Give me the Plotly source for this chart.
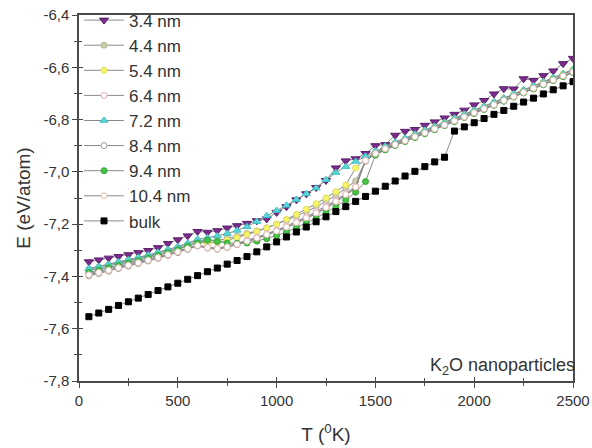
import plotly.graph_objects as go

# Temperature grid (K)
T = list(range(50, 2501, 50))

e_3_4 = [-7.344, -7.337, -7.330, -7.324, -7.317, -7.309, -7.301, -7.290, -7.274, -7.260,
         -7.245, -7.228, -7.231, -7.225, -7.215, -7.206, -7.197, -7.187, -7.180, -7.155,
         -7.133, -7.107, -7.084, -7.060, -7.033, -6.985, -6.958, -6.950, -6.930, -6.900,
         -6.896, -6.860, -6.845, -6.838, -6.822, -6.809, -6.794, -6.780, -6.764, -6.744,
         -6.727, -6.702, -6.682, -6.683, -6.644, -6.650, -6.632, -6.614, -6.586, -6.566]

e_4_4 = [-7.372, -7.364, -7.356, -7.347, -7.339, -7.330, -7.321, -7.311, -7.301, -7.290,
         -7.278, -7.262, -7.262, -7.262, -7.255, -7.246, -7.236, -7.226, -7.214, -7.200,
         -7.186, -7.170, -7.152, -7.134, -7.112, -7.090, -7.062, -7.035, -6.960, -6.930,
         -6.912, -6.893, -6.878, -6.862, -6.848, -6.832, -6.816, -6.800, -6.785, -6.769,
         -6.753, -6.737, -6.721, -6.705, -6.690, -6.674, -6.658, -6.643, -6.627, -6.611]

e_5_4 = [-7.378, -7.369, -7.361, -7.352, -7.344, -7.335, -7.326, -7.316, -7.306, -7.295,
         -7.283, -7.270, -7.272, -7.270, -7.262, -7.252, -7.240, -7.228, -7.215, -7.200,
         -7.182, -7.163, -7.143, -7.122, -7.100, -7.076, -7.050, -6.985, -6.950, -6.925,
         -6.906, -6.889, -6.874, -6.858, -6.843, -6.828, -6.812, -6.797, -6.781, -6.766,
         -6.750, -6.734, -6.719, -6.703, -6.688, -6.672, -6.656, -6.641, -6.625, -6.609]

e_6_4 = [-7.390, -7.381, -7.372, -7.363, -7.354, -7.345, -7.335, -7.325, -7.315, -7.304,
         -7.292, -7.280, -7.288, -7.292, -7.284, -7.274, -7.262, -7.250, -7.237, -7.223,
         -7.207, -7.190, -7.172, -7.152, -7.131, -7.108, -7.083, -7.055, -6.955, -6.928,
         -6.910, -6.894, -6.880, -6.865, -6.850, -6.835, -6.820, -6.804, -6.789, -6.773,
         -6.758, -6.742, -6.726, -6.711, -6.695, -6.680, -6.664, -6.648, -6.633, -6.617]

e_7_2 = [-7.370, -7.362, -7.354, -7.345, -7.336, -7.327, -7.318, -7.308, -7.297, -7.286,
         -7.273, -7.258, -7.252, -7.245, -7.236, -7.224, -7.210, -7.190, -7.168, -7.148,
         -7.128, -7.106, -7.084, -7.062, -7.030, -7.003, -6.980, -6.960, -6.940, -6.920,
         -6.902, -6.886, -6.871, -6.856, -6.841, -6.826, -6.811, -6.795, -6.780, -6.764,
         -6.749, -6.733, -6.718, -6.702, -6.687, -6.671, -6.656, -6.640, -6.625, -6.609]

e_8_4 = [-7.398, -7.389, -7.380, -7.370, -7.361, -7.351, -7.341, -7.331, -7.320, -7.309,
         -7.297, -7.284, -7.292, -7.296, -7.289, -7.279, -7.268, -7.256, -7.243, -7.229,
         -7.214, -7.197, -7.179, -7.160, -7.139, -7.116, -7.090, -7.062, -6.958, -6.932,
         -6.914, -6.897, -6.882, -6.867, -6.852, -6.837, -6.822, -6.806, -6.791, -6.775,
         -6.760, -6.744, -6.728, -6.713, -6.697, -6.681, -6.666, -6.650, -6.634, -6.619]

e_9_4 = [-7.385, -7.376, -7.367, -7.358, -7.349, -7.340, -7.330, -7.320, -7.309, -7.298,
         -7.285, -7.272, -7.262, -7.266, -7.272, -7.273, -7.272, -7.265, -7.256, -7.244,
         -7.230, -7.214, -7.196, -7.177, -7.156, -7.133, -7.108, -7.078, -7.037, -6.936,
         -6.916, -6.899, -6.884, -6.869, -6.854, -6.839, -6.823, -6.808, -6.792, -6.777,
         -6.761, -6.745, -6.730, -6.714, -6.698, -6.683, -6.667, -6.651, -6.636, -6.620]

e_10_4 = [-7.394, -7.385, -7.376, -7.367, -7.357, -7.348, -7.338, -7.328, -7.317, -7.306,
          -7.294, -7.282, -7.290, -7.294, -7.287, -7.277, -7.265, -7.253, -7.240, -7.226,
          -7.211, -7.194, -7.176, -7.157, -7.136, -7.113, -7.087, -7.058, -6.957, -6.930,
          -6.912, -6.896, -6.881, -6.866, -6.851, -6.836, -6.821, -6.805, -6.790, -6.774,
          -6.759, -6.743, -6.727, -6.712, -6.696, -6.680, -6.665, -6.649, -6.633, -6.618]

e_bulk = [-7.554, -7.540, -7.526, -7.511, -7.497, -7.483, -7.469, -7.454, -7.440, -7.426,
          -7.411, -7.397, -7.382, -7.368, -7.353, -7.339, -7.324, -7.306, -7.287, -7.268,
          -7.249, -7.230, -7.211, -7.191, -7.172, -7.152, -7.133, -7.113, -7.094, -7.074,
          -7.055, -7.035, -7.016, -6.998, -6.980, -6.962, -6.944, -6.844, -6.828, -6.812,
          -6.796, -6.780, -6.765, -6.749, -6.733, -6.718, -6.702, -6.686, -6.671, -6.655]

series_names = ["3.4 nm", "4.4 nm", "5.4 nm", "6.4 nm", "7.2 nm",
                "8.4 nm", "9.4 nm", "10.4 nm", "bulk"]
series_values = [e_3_4, e_4_4, e_5_4, e_6_4, e_7_2, e_8_4, e_9_4, e_10_4, e_bulk]

y_ticks = [-7.8, -7.6, -7.4, -7.2, -7.0, -6.8, -6.6, -6.4]
x_ticks = [0, 500, 1000, 1500, 2000, 2500]

# marker style per series: (symbol, fill, outline, size)
styles = [
    ("triangle-down", "#7a2c8c", "#5a1f6a", 8),
    ("circle", "#cfcfae", "#b5b597", 6),
    ("circle", "#f6f46a", "#e2df55", 6),
    ("circle", "#ffffff", "#e3a9cf", 6),
    ("triangle-up", "#59d6d8", "#3fc0c2", 7),
    ("circle", "#ffffff", "#9a9a9a", 6),
    ("circle", "#46c247", "#34a836", 6),
    ("circle", "#ffffff", "#e6bcb0", 6),
    ("square", "#000000", "#000000", 6),
]

fig = go.Figure()
for name, vals, (sym, fill, edge, size) in zip(series_names, series_values, styles):
    fig.add_trace(go.Scatter(
        x=T, y=vals, name=name, mode="lines+markers",
        line=dict(color="#8a8a8a", width=1),
        marker=dict(symbol=sym, color=fill, size=size,
                    line=dict(color=edge, width=1)),
    ))

axis_common = dict(showgrid=False, zeroline=False, linecolor="#4a4a4a",
                   linewidth=1.5, tickcolor="#4a4a4a", tickwidth=1.2,
                   tickfont=dict(size=15), automargin=False)

fig.update_layout(
    width=592, height=448,
    margin=dict(l=79, r=19, t=15, b=67, autoexpand=False),
    paper_bgcolor="white", plot_bgcolor="white",
    font=dict(family="Liberation Sans, Arial, sans-serif", color="#333333", size=15),
    showlegend=True,
    legend=dict(x=0, y=1.034, xanchor="left", yanchor="top", maxheight=440,
                bgcolor="rgba(0,0,0,0)", font=dict(size=17, color="#333333"),
                tracegroupgap=0, itemwidth=40),
    xaxis=dict(range=[0, 2500], tickvals=x_ticks,
               ticks="outside", ticklen=5, mirror=True,
               minor=dict(ticks="outside", ticklen=3, dtick=250, tickcolor="#4a4a4a"),
               title=dict(text="T (<sup>0</sup>K)", font=dict(size=19), standoff=20),
               **axis_common),
    yaxis=dict(range=[-7.8, -6.4], tickvals=y_ticks,
               ticktext=[("%.1f" % v).replace(".", ",") for v in y_ticks],
               ticks="outside", ticklen=5, mirror=True,
               minor=dict(ticks="outside", ticklen=3, dtick=0.1, tickcolor="#4a4a4a"),
               title=dict(text="E (eV/atom)", font=dict(size=19), standoff=8),
               **axis_common),
    # overlay axes give the inward half of the crossing ticks
    xaxis2=dict(range=[0, 2500], overlaying="x", anchor="y", side="bottom",
                tickvals=x_ticks, ticks="inside", ticklen=4, showticklabels=False,
                showgrid=False, zeroline=False, showline=False,
                tickcolor="#4a4a4a", tickwidth=1.2, automargin=False,
                minor=dict(ticks="inside", ticklen=3, dtick=250, tickcolor="#4a4a4a")),
    yaxis2=dict(range=[-7.8, -6.4], overlaying="y", anchor="x", side="left",
                tickvals=y_ticks, ticks="inside", ticklen=4, showticklabels=False,
                showgrid=False, zeroline=False, showline=False,
                tickcolor="#4a4a4a", tickwidth=1.2, automargin=False,
                minor=dict(ticks="inside", ticklen=3, dtick=0.1, tickcolor="#4a4a4a")),
)

# invisible trace binds the overlay axes so they are drawn
fig.add_trace(go.Scatter(x=[None], y=[None], xaxis="x2", yaxis="y2",
                         showlegend=False, hoverinfo="skip"))

fig.add_annotation(
    text="K<sub>2</sub>O nanoparticles", xref="paper", yref="y",
    x=1.0, y=-7.795, xanchor="right", yanchor="bottom", showarrow=False,
    xshift=4, font=dict(size=18, color="#333333"),
)

fig.write_html("out.html")
